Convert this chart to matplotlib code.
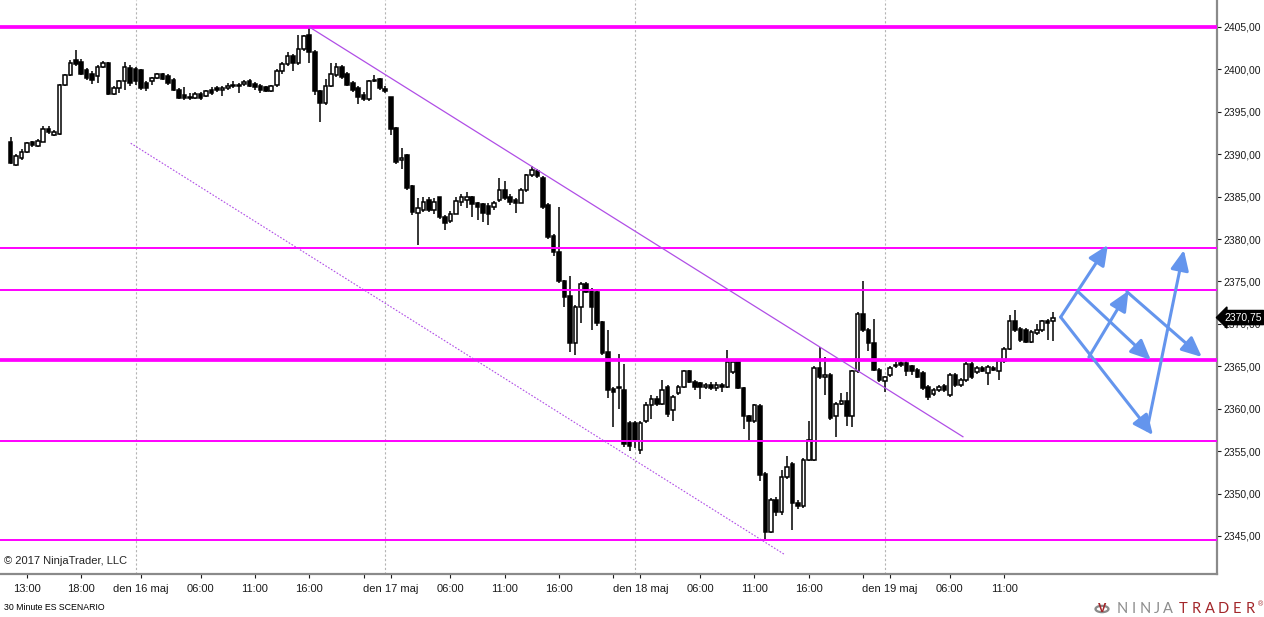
import numpy as np
import matplotlib.pyplot as plt
from matplotlib.patches import Circle
from matplotlib.ticker import FixedLocator, FuncFormatter
from matplotlib.transforms import blended_transform_factory

plt.rcParams['font.family'] = ['Liberation Sans', 'DejaVu Sans']

# 30 min ES bars, 15 maj 11:30 -> 19 maj 15:30 (46 bars per session)
opens = [2391.5, 2388.7, 2389.5, 2390.3, 2391.4, 2391.0, 2391.5, 2393.0, 2392.3, 2392.4,
         2398.2, 2399.3, 2401.1, 2400.9, 2399.9, 2399.5, 2399.2, 2400.3, 2400.7, 2397.1,
         2397.8, 2398.6, 2400.2, 2400.1, 2399.9, 2398.4, 2398.6, 2399.0, 2399.4, 2399.2,
         2398.8, 2397.6, 2397.0, 2396.8, 2396.6, 2397.1, 2396.9, 2397.6, 2397.8, 2397.6,
         2397.8, 2398.2, 2398.2, 2398.3, 2398.6, 2398.3, 2398.1, 2397.9, 2397.5, 2398.2,
         2399.8, 2400.6, 2401.6, 2400.7, 2402.4, 2404.1, 2402.1, 2397.4, 2396.0, 2398.0,
         2399.3, 2400.3, 2399.5, 2398.4, 2397.8, 2397.0, 2396.5, 2398.8, 2398.9, 2397.7,
         2396.7, 2393.05, 2389.3, 2389.9, 2386.2, 2383.1, 2383.4, 2384.6, 2383.4, 2384.9,
         2382.6, 2382.1, 2383.0, 2384.4, 2384.6, 2384.9, 2384.2, 2384.1, 2383.9, 2383.8,
         2384.6, 2385.8, 2385.0, 2384.6, 2384.3, 2385.8, 2387.5, 2388.0, 2387.2, 2384.0,
         2380.4, 2378.5, 2375.0, 2373.3, 2367.7, 2372.0, 2374.7, 2374.0, 2373.8, 2370.2,
         2366.7, 2362.3, 2362.4, 2362.2, 2358.3, 2358.3, 2355.1, 2358.5, 2360.4, 2361.2,
         2360.6, 2362.6, 2359.9, 2361.8, 2362.6, 2364.4, 2363.2, 2363.0, 2362.6, 2362.8,
         2362.5, 2362.8, 2362.6, 2364.3, 2365.6, 2362.5, 2359.1, 2358.5, 2360.3, 2352.3,
         2345.5, 2349.3, 2347.8, 2351.9, 2353.5, 2348.9, 2348.5, 2354.0, 2354.0, 2364.8,
         2363.8, 2364.0, 2359.1, 2360.6, 2360.9, 2359.1, 2364.4, 2371.2, 2369.3, 2367.7,
         2364.6, 2363.3, 2364.0, 2365.0, 2365.4, 2365.4, 2365.0, 2364.6, 2364.2, 2362.6,
         2361.7, 2362.2, 2362.7, 2361.6, 2364.0, 2362.8, 2363.4, 2365.3, 2364.3, 2364.8,
         2364.2, 2364.8, 2364.5, 2365.6, 2367.1, 2370.3, 2369.4, 2369.3, 2367.9, 2368.9,
         2369.3, 2370.3, 2370.3]
highs = [2392.0, 2390.0, 2390.6, 2391.4, 2391.6, 2391.8, 2393.3, 2393.3, 2392.8, 2398.3,
         2399.5, 2401.1, 2402.3, 2401.2, 2400.2, 2399.8, 2400.5, 2401.0, 2400.9, 2398.0,
         2398.8, 2400.9, 2400.5, 2400.3, 2400.1, 2398.6, 2399.1, 2399.6, 2399.6, 2399.4,
         2399.0, 2397.8, 2397.9, 2397.2, 2397.3, 2397.3, 2397.6, 2397.9, 2398.1, 2398.0,
         2398.4, 2398.6, 2398.4, 2398.7, 2398.9, 2398.5, 2398.3, 2398.1, 2398.2, 2400.0,
         2400.9, 2402.0, 2401.8, 2404.1, 2404.1, 2405.0, 2402.3, 2397.6, 2398.9, 2400.8,
         2400.8, 2400.5, 2399.7, 2398.6, 2398.0, 2397.3, 2398.8, 2399.3, 2399.0, 2398.0,
         2396.8, 2393.2, 2390.7, 2390.0, 2386.4, 2384.8, 2384.9, 2385.0, 2384.8, 2385.0,
         2382.8, 2383.3, 2385.0, 2385.3, 2385.5, 2385.1, 2384.4, 2384.3, 2384.2, 2384.5,
         2387.2, 2386.8, 2385.3, 2384.8, 2386.0, 2387.7, 2388.6, 2388.3, 2387.4, 2384.2,
         2380.6, 2383.8, 2375.2, 2375.6, 2372.2, 2374.9, 2374.9, 2374.2, 2374.0, 2370.4,
         2369.3, 2362.6, 2366.5, 2365.3, 2358.5, 2358.6, 2358.5, 2360.8, 2361.6, 2361.5,
         2363.4, 2362.8, 2361.6, 2362.8, 2364.6, 2364.6, 2363.4, 2363.2, 2363.0, 2363.1,
         2363.2, 2363.0, 2366.9, 2365.7, 2365.7, 2362.6, 2359.3, 2360.6, 2360.5, 2352.5,
         2349.5, 2349.6, 2352.8, 2354.4, 2353.7, 2349.2, 2354.2, 2358.6, 2365.0, 2367.3,
         2366.1, 2364.2, 2360.8, 2361.8, 2362.0, 2364.6, 2371.4, 2375.0, 2369.5, 2370.6,
         2364.8, 2363.9, 2365.0, 2365.5, 2365.6, 2365.6, 2365.2, 2364.8, 2364.4, 2362.8,
         2362.4, 2362.8, 2362.9, 2364.2, 2364.2, 2363.6, 2365.5, 2365.5, 2365.0, 2365.0,
         2365.1, 2365.0, 2365.8, 2367.3, 2371.1, 2371.6, 2369.6, 2369.5, 2369.3, 2370.0,
         2370.5, 2370.6, 2371.4]
lows = [2388.8, 2388.6, 2389.3, 2390.2, 2390.9, 2390.9, 2391.4, 2392.4, 2392.2, 2392.3,
        2398.0, 2399.2, 2400.4, 2399.3, 2398.8, 2398.3, 2398.4, 2400.2, 2397.0, 2397.0,
        2397.2, 2397.6, 2398.0, 2398.2, 2397.6, 2397.5, 2398.2, 2398.9, 2398.7, 2398.2,
        2397.4, 2396.5, 2396.4, 2396.4, 2396.5, 2396.4, 2396.7, 2397.0, 2397.3, 2396.9,
        2397.6, 2397.8, 2397.2, 2398.1, 2397.9, 2397.6, 2397.2, 2397.3, 2397.3, 2397.9,
        2399.5, 2400.4, 2399.8, 2400.5, 2402.2, 2400.7, 2397.0, 2393.8, 2395.8, 2397.9,
        2399.1, 2398.9, 2398.0, 2397.3, 2395.9, 2396.3, 2396.3, 2398.5, 2397.6, 2397.2,
        2392.3, 2388.9, 2388.3, 2385.8, 2382.8, 2379.3, 2383.2, 2383.2, 2383.0, 2382.4,
        2381.1, 2381.9, 2382.9, 2383.9, 2383.7, 2382.6, 2382.2, 2382.0, 2381.6, 2383.4,
        2384.4, 2384.6, 2384.0, 2383.1, 2384.2, 2385.6, 2387.3, 2387.2, 2383.6, 2380.0,
        2378.0, 2374.8, 2372.0, 2366.7, 2366.3, 2370.1, 2373.6, 2369.3, 2369.8, 2366.3,
        2361.3, 2357.9, 2360.0, 2355.5, 2355.0, 2355.4, 2354.7, 2358.3, 2358.8, 2360.3,
        2360.4, 2359.0, 2358.5, 2361.6, 2362.4, 2363.0, 2362.2, 2361.2, 2362.3, 2362.2,
        2362.1, 2362.0, 2362.5, 2364.1, 2362.3, 2357.6, 2356.2, 2358.3, 2351.5, 2344.6,
        2345.3, 2347.3, 2347.5, 2351.7, 2345.7, 2348.2, 2348.3, 2353.8, 2353.8, 2363.5,
        2361.6, 2358.7, 2356.7, 2360.4, 2358.0, 2357.9, 2364.2, 2369.1, 2366.8, 2364.4,
        2363.2, 2362.0, 2363.8, 2364.8, 2364.9, 2363.9, 2364.0, 2363.6, 2362.2, 2361.0,
        2361.5, 2362.0, 2362.0, 2361.4, 2362.6, 2362.6, 2363.2, 2363.5, 2364.1, 2364.3,
        2362.8, 2364.4, 2363.4, 2365.4, 2366.9, 2369.1, 2367.9, 2367.7, 2367.7, 2368.7,
        2369.1, 2368.1, 2368.0]
closes = [2389.0, 2389.8, 2390.3, 2391.3, 2391.1, 2391.6, 2393.0, 2392.6, 2392.6, 2398.2,
          2399.3, 2400.8, 2400.6, 2399.5, 2399.0, 2398.8, 2400.3, 2400.8, 2397.1, 2397.8,
          2398.6, 2400.3, 2398.4, 2398.6, 2397.8, 2397.8, 2399.0, 2399.4, 2398.9, 2398.4,
          2397.6, 2396.6, 2396.6, 2396.6, 2397.1, 2396.6, 2397.4, 2397.2, 2397.6, 2397.8,
          2398.1, 2398.0, 2398.0, 2398.5, 2398.1, 2397.9, 2397.6, 2397.5, 2398.0, 2399.8,
          2400.6, 2401.6, 2400.7, 2402.4, 2403.9, 2402.1, 2397.4, 2396.0, 2398.0, 2399.5,
          2400.3, 2399.1, 2398.2, 2397.6, 2396.7, 2396.5, 2398.6, 2398.6, 2397.8, 2397.5,
          2393.0, 2389.1, 2389.5, 2386.0, 2383.2, 2383.7, 2384.4, 2383.4, 2384.4, 2382.6,
          2381.9, 2383.0, 2384.5, 2385.0, 2384.9, 2384.1, 2383.8, 2383.1, 2383.0, 2384.2,
          2385.8, 2384.8, 2384.4, 2384.3, 2385.8, 2387.5, 2388.1, 2387.4, 2383.8, 2380.3,
          2378.5, 2375.0, 2373.2, 2367.7, 2372.0, 2374.7, 2373.8, 2372.0, 2370.1, 2366.6,
          2362.2, 2362.0, 2362.6, 2355.9, 2355.6, 2356.3, 2358.3, 2360.4, 2361.2, 2360.6,
          2362.2, 2359.4, 2361.4, 2362.6, 2364.4, 2363.2, 2362.6, 2362.6, 2362.8, 2362.5,
          2362.8, 2362.6, 2365.5, 2365.5, 2362.5, 2359.1, 2358.5, 2360.4, 2352.2, 2345.5,
          2349.3, 2347.8, 2351.9, 2353.1, 2348.9, 2348.5, 2354.0, 2356.3, 2364.8, 2363.7,
          2364.0, 2358.9, 2360.6, 2360.9, 2359.1, 2364.4, 2371.2, 2369.3, 2367.7, 2364.6,
          2363.4, 2363.7, 2364.8, 2365.2, 2365.2, 2364.4, 2364.4, 2363.8, 2362.4, 2361.4,
          2362.2, 2362.6, 2362.2, 2364.0, 2362.8, 2363.4, 2365.3, 2363.7, 2364.8, 2364.5,
          2364.9, 2364.6, 2365.6, 2367.1, 2370.3, 2369.3, 2368.1, 2367.9, 2369.1, 2369.3,
          2370.3, 2370.1, 2370.75]

# time axis (bar numbers of the labelled bars)
tick_bars = [3, 13, 24, 35, 45, 55, 65, 70, 81, 91, 101, 111, 116, 127, 137, 147, 157, 162, 173, 183]
tick_labels = ['13:00', '18:00', 'den 16 maj', '06:00', '11:00', '16:00', '', 'den 17 maj',
               '06:00', '11:00', '16:00', '', 'den 18 maj', '06:00', '11:00', '16:00', '',
               'den 19 maj', '06:00', '11:00']
session_breaks = [23, 69, 115, 161]

# drawings
thick_levels = [2405.0, 2365.75]
thin_levels = [2379.0, 2374.0, 2356.25, 2344.5]
channel_upper = ([55, 175.4], [2405.0, 2356.7])
channel_lower = ([22.1, 142.6], [2391.3, 2342.8])
arrow_from = [(193.4, 2370.8), (196.6, 2373.8), (193.4, 2370.8), (198.6, 2366.1), (205.6, 2373.8), (209.3, 2357.5)]
arrow_to = [(202.1, 2379.3), (210.0, 2365.75), (210.4, 2356.9), (205.9, 2373.9), (219.4, 2366.1), (216.1, 2378.7)]

W, H = 1264, 617
fig = plt.figure(figsize=(W / 100, H / 100), dpi=100)
ax = fig.add_axes([0, 1 - 574 / H, 1217 / W, 574 / H])

x = np.arange(len(closes))
o = np.array(opens)
c = np.array(closes)
up = c >= o

# candles
ax.vlines(x, lows, highs, color='black', lw=1.1, zorder=2)
ax.bar(x, np.abs(c - o), bottom=np.minimum(o, c), width=0.66,
       color=np.where(up, 'white', 'black'), edgecolor='black', linewidth=1.1, zorder=3)

for b in session_breaks:
    ax.axvline(b, color='#b4b4b4', lw=0.8, ls=(0, (2, 2)), zorder=1)

for lv in thick_levels:
    ax.axhline(lv, color='#ff00ff', lw=2.7, zorder=4)
for lv in thin_levels:
    ax.axhline(lv, color='#ff00ff', lw=1.4, zorder=4)

ax.plot(*channel_upper, color='#b04ee6', lw=0.9, zorder=4)
ax.plot(*channel_lower, color='#b04ee6', lw=0.8, ls=(0, (1.5, 1.5)), zorder=4)

for a, b in zip(arrow_from, arrow_to):
    ax.annotate('', xy=b, xytext=a, zorder=5,
                arrowprops=dict(arrowstyle='-|>,head_length=1.1,head_width=0.5', mutation_scale=11,
                                color='#6495ed', lw=2.2, shrinkA=0, shrinkB=0))

ax.set_xlim(-1.97, 222.2)
ax.set_ylim(2340.52, 2408.18)

# axes look
for s in ['top', 'left']:
    ax.spines[s].set_visible(False)
for s in ['bottom', 'right']:
    ax.spines[s].set_color('#8a8a8a')
    ax.spines[s].set_linewidth(1.6)

ax.yaxis.tick_right()
ax.yaxis.set_major_locator(FixedLocator(np.arange(2345, 2406, 5)))
ax.yaxis.set_major_formatter(FuncFormatter(lambda v, p: f'{v:.2f}'.replace('.', ',')))
ax.tick_params(axis='y', length=3, width=0.8, pad=1.8, labelsize=7.5, colors='#1a1a1a')
ax.xaxis.set_major_locator(FixedLocator(tick_bars))
ax.set_xticklabels(tick_labels)
ax.tick_params(axis='x', length=3, width=0.8, pad=4.5, labelsize=8, colors='#1a1a1a')

# last price marker
tr = blended_transform_factory(fig.transFigure, ax.transData)
ax.text(1224 / W, closes[-1], f'{closes[-1]:.2f}'.replace('.', ','), transform=tr,
        color='white', fontsize=7.5, va='center', ha='left', zorder=10, clip_on=False,
        bbox=dict(boxstyle='larrow,pad=0.2', fc='black', ec='black'))

fig.text(4 / W, 1 - 561 / H, '\u00a9 2017 NinjaTrader, LLC', fontsize=8, color='#222222', va='center')
fig.text(4 / W, 1 - 607 / H, '30 Minute ES SCENARIO', fontsize=6.3, color='black', va='center')

# NinjaTrader logo
logo_y = 1 - 609 / H
fig.patches.append(Circle((1102 / W, logo_y), 6.5 / W, transform=fig.transFigure,
                          fc='none', ec='#8a8a8a', lw=1.6))
fig.text(1102 / W, logo_y, 'V', color='#a3262a', fontsize=9, fontweight='bold', ha='center', va='center')
for i, ch in enumerate('NINJA'):
    fig.text((1122 + 11.5 * i) / W, logo_y, ch, color='#8c8c8c', fontsize=10.5,
             family='Lato', ha='center', va='center')
for i, ch in enumerate('TRADER'):
    fig.text((1183 + 13.4 * i) / W, logo_y, ch, color='#a3262a', fontsize=10.5,
             family='Lato', ha='center', va='center')
fig.text(1260 / W, logo_y + 0.006, '\u00ae', color='#a3262a', fontsize=5, ha='center', va='center')

fig.savefig('out.png', dpi=100)
